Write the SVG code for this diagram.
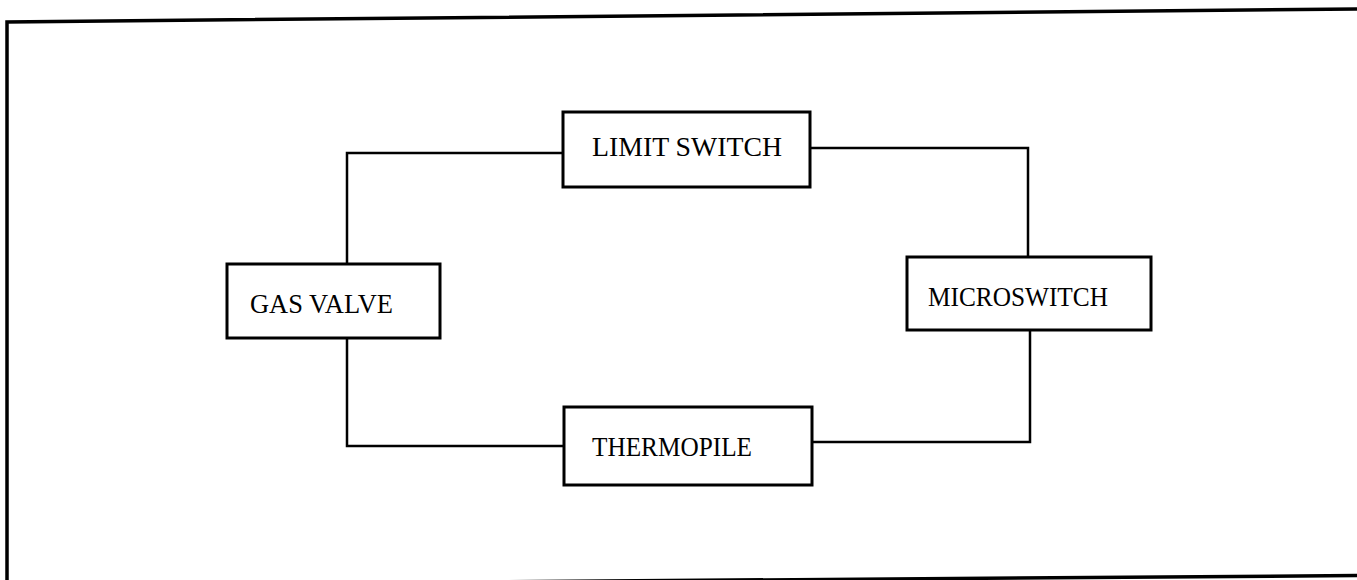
<svg xmlns="http://www.w3.org/2000/svg" width="1357" height="580" viewBox="0 0 1357 580">
<style>
.frame{fill:none;stroke:#000;stroke-width:3.5}
.box{fill:#fff;stroke:#000;stroke-width:3}
.wire{fill:none;stroke:#000;stroke-width:2.5}
.lbl{font-family:"Liberation Serif","DejaVu Serif",serif;font-size:27px;fill:#000}
</style>
<rect width="1357" height="580" fill="#fff"/>
<g id="frame">
<path class="frame" d="M1357,9 L7,22 L7,580"/>
<path class="frame" d="M0,585.5 L1357,575.5"/>
</g>
<g id="connectors">
<path class="wire" d="M563,153 H347 V264"/>
<path class="wire" d="M810,148 H1028 V257"/>
<path class="wire" d="M347,338 V446 H564"/>
<path class="wire" d="M812,442 H1030 V330"/>
</g>
<g id="limit-switch">
<rect class="box" x="563" y="112" width="247" height="75"/>
<text class="lbl" x="592" y="156" textLength="190" lengthAdjust="spacingAndGlyphs">LIMIT SWITCH</text>
</g>
<g id="gas-valve">
<rect class="box" x="227" y="264" width="213" height="74"/>
<text class="lbl" x="250" y="313" textLength="143" lengthAdjust="spacingAndGlyphs">GAS VALVE</text>
</g>
<g id="microswitch">
<rect class="box" x="907" y="257" width="244" height="73"/>
<text class="lbl" x="928" y="306" textLength="180" lengthAdjust="spacingAndGlyphs">MICROSWITCH</text>
</g>
<g id="thermopile">
<rect class="box" x="564" y="407" width="248" height="78"/>
<text class="lbl" x="592" y="456" textLength="160" lengthAdjust="spacingAndGlyphs">THERMOPILE</text>
</g>
</svg>
